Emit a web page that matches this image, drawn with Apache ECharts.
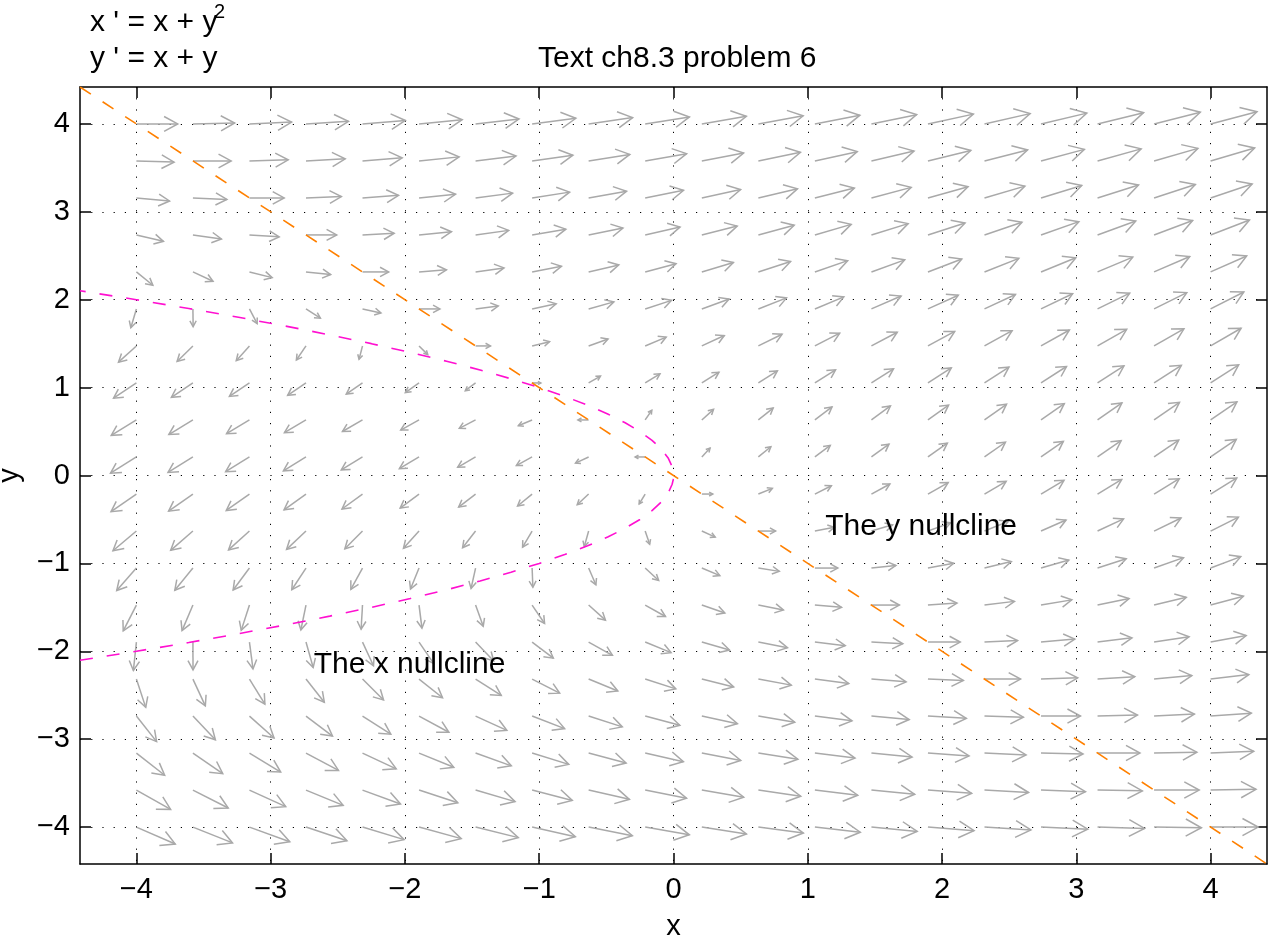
<!DOCTYPE html>
<html>
<head>
<meta charset="utf-8">
<script src="https://cdn.jsdelivr.net/npm/echarts@6/dist/echarts.min.js"></script>
</head>
<body style="margin:0;width:1268px;height:938px;background:#fff">
<div id="main" style="width:1268px;height:938px"></div>
<script>
// system: x' = x + y^2 , y' = x + y
var gridX = [-4, -3.579, -3.158, -2.737, -2.316, -1.895, -1.474, -1.053, -0.632, -0.211,
             0.211, 0.632, 1.053, 1.474, 1.895, 2.316, 2.737, 3.158, 3.579, 4];
var gridY = [-4, -3.579, -3.158, -2.737, -2.316, -1.895, -1.474, -1.053, -0.632, -0.211,
             0.211, 0.632, 1.053, 1.474, 1.895, 2.316, 2.737, 3.158, 3.579, 4];
var tickValues = [-4, -3, -2, -1, 0, 1, 2, 3, 4];

// x nullcline x = -y^2
var xNullcline = [
  [-4.42, -2.102], [-4, -2], [-3.61, -1.9], [-3.24, -1.8], [-2.89, -1.7], [-2.56, -1.6],
  [-2.25, -1.5], [-1.96, -1.4], [-1.69, -1.3], [-1.44, -1.2], [-1.21, -1.1], [-1, -1],
  [-0.81, -0.9], [-0.64, -0.8], [-0.49, -0.7], [-0.36, -0.6], [-0.25, -0.5], [-0.16, -0.4],
  [-0.09, -0.3], [-0.04, -0.2], [-0.01, -0.1], [-0.0025, -0.05], [0, 0], [-0.0025, 0.05],
  [-0.01, 0.1], [-0.04, 0.2], [-0.09, 0.3], [-0.16, 0.4], [-0.25, 0.5], [-0.36, 0.6],
  [-0.49, 0.7], [-0.64, 0.8], [-0.81, 0.9], [-1, 1], [-1.21, 1.1], [-1.44, 1.2],
  [-1.69, 1.3], [-1.96, 1.4], [-2.25, 1.5], [-2.56, 1.6], [-2.89, 1.7], [-3.24, 1.8],
  [-3.61, 1.9], [-4, 2], [-4.42, 2.102]
];
// y nullcline y = -x
var yNullcline = [[-4.42, 4.42], [4.42, -4.42]];

var notes = [
  ['The y nullcline', 1.13, -0.58],
  ['The x nullcline', -2.68, -2.15]
];

function field(x, y) {
  return [x + y * y, x + y];
}

var arrows = [];
for (var i = 0; i < gridX.length; i++) {
  for (var j = 0; j < gridY.length; j++) {
    var d = field(gridX[i], gridY[j]);
    arrows.push([gridX[i], gridY[j], d[0], d[1]]);
  }
}

var ARROW_COLOR = '#a9a9a9';
function renderArrow(params, api) {
  var p = api.coord([api.value(0), api.value(1)]);
  var unit = api.size([1, 1]);
  var px = api.value(2) * unit[0], py = -api.value(3) * unit[1];
  var mag = Math.sqrt(px * px + py * py);
  if (!mag) return;
  var len = 8 + 13 * Math.log(1 + mag / unit[0]);
  var dx = px / mag, dy = py / mag;
  var tip = [p[0] + dx * len, p[1] + dy * len];
  var hl = 0.33 * len, hw = 0.18 * len;
  var b1 = [tip[0] - dx * hl - dy * hw, tip[1] - dy * hl + dx * hw];
  var b2 = [tip[0] - dx * hl + dy * hw, tip[1] - dy * hl - dx * hw];
  var st = { stroke: ARROW_COLOR, lineWidth: 1.5, fill: null };
  return {
    type: 'group',
    children: [
      { type: 'polyline', shape: { points: [p, tip] }, style: st },
      { type: 'polyline', shape: { points: [b1, tip, b2] }, style: st }
    ]
  };
}

function renderNote(params, api) {
  var p = api.coord([api.value(0), api.value(1)]);
  return {
    type: 'text',
    x: p[0], y: p[1],
    style: {
      text: notes[params.dataIndex][0],
      font: '30px "Liberation Sans"',
      fill: '#000',
      verticalAlign: 'middle',
      align: 'left'
    }
  };
}

function fmt(v) {
  return v < 0 ? '\u2212' + (-v) : String(v);
}

var FONT = 'Liberation Sans';
var axisBase = {
  type: 'value',
  min: -4.42,
  max: 4.42,
  splitNumber: 9,
  axisLine: { show: true, onZero: false, lineStyle: { color: '#000', width: 1.5 } },
  axisTick: { show: true, inside: true, length: 11, customValues: tickValues,
              lineStyle: { color: '#000', width: 1.5 } }
};
function axis(extra) {
  return Object.assign({}, axisBase, extra);
}

var dom = document.getElementById('main');
var chart = echarts.init(dom, null, { renderer: 'canvas' });

var option = {
  animation: false,
  backgroundColor: '#fff',
  grid: { left: 80, top: 87, width: 1187, height: 777, containLabel: false, outerBoundsMode: 'none' },
  xAxis: [
    axis({
      position: 'bottom',
      name: 'x', nameLocation: 'middle', nameGap: 48,
      nameTextStyle: { fontFamily: FONT, fontSize: 29, color: '#000' },
      axisLabel: { customValues: tickValues, formatter: fmt, margin: 11,
                   fontFamily: FONT, fontSize: 29, color: '#000' },
      splitLine: { show: true, lineStyle: { type: [1.2, 10], color: '#000', width: 1 } }
    }),
    axis({
      position: 'top',
      axisLabel: { show: false },
      splitLine: { show: false }
    })
  ],
  yAxis: [
    axis({
      position: 'left',
      name: 'y', nameLocation: 'middle', nameGap: 56, nameRotate: 90,
      nameTextStyle: { fontFamily: FONT, fontSize: 29, color: '#000' },
      axisLabel: { customValues: tickValues, formatter: fmt, margin: 10,
                   fontFamily: FONT, fontSize: 29, color: '#000' },
      splitLine: { show: true, lineStyle: { type: [1.2, 10], color: '#000', width: 1 } }
    }),
    axis({
      position: 'right',
      axisLabel: { show: false },
      splitLine: { show: false }
    })
  ],
  graphic: [
    { type: 'text', left: 90, top: 8,
      style: { text: "x ' = x + y", font: '30px "Liberation Sans"', fill: '#000' } },
    { type: 'text', left: 214, top: 2,
      style: { text: '2', font: '20px "Liberation Sans"', fill: '#000' } },
    { type: 'text', left: 90, top: 44,
      style: { text: "y ' = x + y", font: '30px "Liberation Sans"', fill: '#000' } },
    { type: 'text', left: 538, top: 44,
      style: { text: 'Text ch8.3 problem 6', font: '30px "Liberation Sans"', fill: '#000' } }
  ],
  series: [
    {
      type: 'custom',
      name: 'direction field',
      renderItem: renderArrow,
      data: arrows,
      silent: true,
      z: 2
    },
    {
      type: 'line',
      name: 'x nullcline',
      data: xNullcline,
      symbol: 'none',
      smooth: false,
      lineStyle: { color: '#ff10d0', width: 1.6, type: [13, 14] },
      silent: true,
      z: 3
    },
    {
      type: 'line',
      name: 'y nullcline',
      data: yNullcline,
      symbol: 'none',
      lineStyle: { color: '#ff8000', width: 1.6, type: [13, 14] },
      silent: true,
      z: 3
    },
    {
      type: 'custom',
      name: 'notes',
      renderItem: renderNote,
      data: notes.map(function (n) { return [n[1], n[2]]; }),
      silent: true,
      z: 4
    }
  ]
};

chart.setOption(option);
</script>
</body>
</html>
